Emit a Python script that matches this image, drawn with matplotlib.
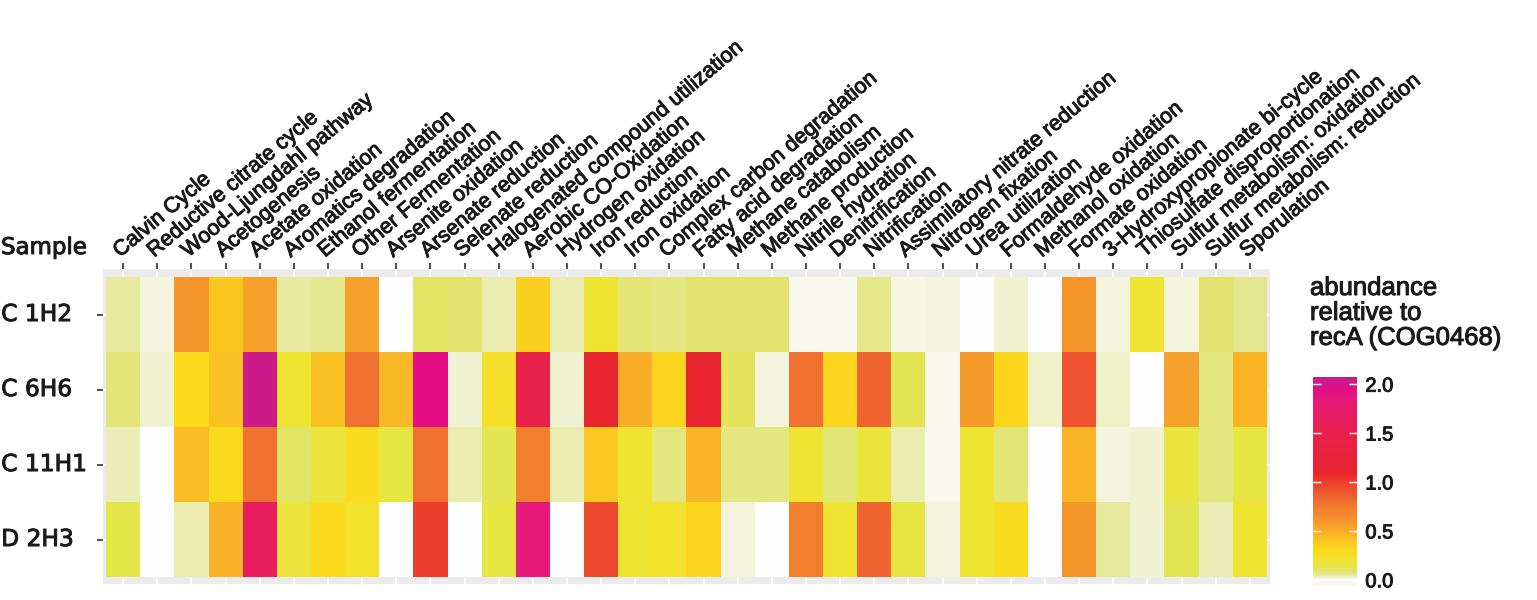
import numpy as np
import matplotlib
matplotlib.use("Agg")
import matplotlib.pyplot as plt
import matplotlib.patheffects as pe
from matplotlib.colors import LinearSegmentedColormap, Normalize

pathways = [
    "Calvin Cycle", "Reductive citrate cycle", "Wood-Ljungdahl pathway", "Acetogenesis",
    "Acetate oxidation", "Aromatics degradation", "Ethanol fermentation", "Other Fermentation",
    "Arsenite oxidation", "Arsenate reduction", "Selenate reduction",
    "Halogenated compound utilization", "Aerobic CO-Oxidation", "Hydrogen oxidation",
    "Iron reduction", "Iron oxidation", "Complex carbon degradation", "Fatty acid degradation",
    "Methane catabolism", "Methane production", "Nitrile hydration", "Denitrification",
    "Nitrification", "Assimilatory nitrate reduction", "Nitrogen fixation", "Urea utilization",
    "Formaldehyde oxidation", "Methanol oxidation", "Formate oxidation",
    "3-Hydroxypropionate bi-cycle", "Thiosulfate disproportionation",
    "Sulfur metabolism: oxidation", "Sulfur metabolism: reduction", "Sporulation",
]
samples = ["C 1H2", "C 6H6", "C 11H1", "D 2H3"]

# abundance relative to recA, one list per sample
c_1h2 = [0.05, 0.02, 0.6, 0.4, 0.55, 0.05, 0.06, 0.55, 0, 0.1, 0.09, 0.04, 0.35, 0.04, 0.2,
         0.08, 0.075, 0.09, 0.09, 0.09, 0.01, 0.012, 0.065, 0.015, 0.018, 0, 0.025, 0, 0.6,
         0.018, 0.2, 0.018, 0.09, 0.06]
c_6h6 = [0.08, 0.025, 0.3, 0.42, 2.02, 0.2, 0.42, 0.8, 0.45, 1.95, 0.025, 0.24, 1.45, 0.025,
         1.1, 0.5, 0.33, 1.1, 0.11, 0.02, 0.8, 0.33, 0.85, 0.12, 0.01, 0.58, 0.32, 0.028, 0.92,
         0.03, 0, 0.55, 0.075, 0.47]
c_11h1 = [0.035, 0, 0.43, 0.3, 0.8, 0.1, 0.16, 0.28, 0.15, 0.8, 0.04, 0.12, 0.72, 0.04, 0.38,
          0.2, 0.075, 0.47, 0.075, 0.075, 0.2, 0.08, 0.17, 0.04, 0.01, 0.2, 0.08, 0, 0.47,
          0.018, 0.025, 0.16, 0.075, 0.15]
d_2h3 = [0.13, 0, 0.04, 0.48, 1.65, 0.17, 0.3, 0.22, 0, 1.0, 0, 0.15, 1.85, 0, 0.95, 0.2,
         0.21, 0.33, 0.018, 0, 0.72, 0.2, 0.85, 0.15, 0.018, 0.2, 0.28, 0, 0.6, 0.05, 0.025,
         0.12, 0.035, 0.2]

cbar_ticks = [0.0, 0.5, 1.0, 1.5, 2.0]

values = np.array([c_1h2, c_6h6, c_11h1, d_2h3])

# colour gradient (value, colour)
lo, hi = -0.053, 2.073
stops = [(lo, "#f6f2ee"), (0.0, "#ffffff"), (0.02, "#f1f3d6"), (0.05, "#e6e898"),
         (0.09, "#e2e46c"), (0.13, "#e4e548"), (0.2, "#f0e430"), (0.3, "#fbda1c"),
         (0.4, "#fbc522"), (0.5, "#f8ac28"), (0.6, "#f5962a"), (0.8, "#f07030"),
         (0.95, "#ee4a2e"), (1.1, "#e8242f"), (1.5, "#e8204c"), (1.85, "#e6187a"),
         (1.95, "#e50c82"), (2.02, "#cc1a8a"), (hi, "#c41c8e")]
cmap = LinearSegmentedColormap.from_list(
    "abund", [((v - lo) / (hi - lo), c) for v, c in stops], N=512)
norm = Normalize(vmin=lo, vmax=hi)

ink = "#1a1a1a"
heavy = [pe.withStroke(linewidth=0.7, foreground=ink)]

W, H = 1537, 600
fig = plt.figure(figsize=(W / 100, H / 100), dpi=100)
ax = fig.add_axes([103 / W, 16 / H, 1167 / W, 315 / H])
ax.set_facecolor("#ebebeb")

xe = np.arange(len(pathways) + 1) - 0.5
ye = np.arange(len(samples) + 1) - 0.5
mesh = ax.pcolormesh(xe, ye, values, cmap=cmap, norm=norm, zorder=1)

ax.set_xlim(-0.59, len(pathways) - 0.41)
ax.set_ylim(len(samples) - 0.407, -0.607)
ax.set_axisbelow(True)
ax.grid(True, color="white", linewidth=1.2)
for s in ax.spines.values():
    s.set_visible(False)

ax.xaxis.tick_top()
ax.set_xticks(range(len(pathways)))
ax.set_xticklabels(pathways, rotation=40, ha="left", va="bottom", rotation_mode="anchor",
                   fontsize=15.5, family="Liberation Sans", color=ink)
ax.set_yticks(range(len(samples)))
ax.set_yticklabels(samples, fontsize=16.8, family="DejaVu Sans", color=ink,
                   ha="left", va="center")
for lab in ax.get_xticklabels() + ax.get_yticklabels():
    lab.set_path_effects(heavy)
ax.tick_params(axis="x", length=4.3, width=1.5, color="#555555", pad=1)
ax.tick_params(axis="y", length=4.3, width=1.5, color="#555555", pad=69)

fig.text(1 / W, 1 - 254 / H, "Sample", fontsize=16.5, family="DejaVu Sans",
         color=ink, ha="left", va="baseline", path_effects=heavy)

# legend
fig.text(1310 / W, 1 - 276 / H, "abundance\nrelative to\nrecA (COG0468)", fontsize=18.5,
         family="Liberation Sans", color=ink, ha="left", va="top", linespacing=1.05,
         path_effects=heavy)
cax = fig.add_axes([1313 / W, 15 / H, 44 / W, 208 / H])
cb = fig.colorbar(mesh, cax=cax, ticks=cbar_ticks)
cb.outline.set_visible(False)
cax.set_yticklabels([f"{t:.1f}" for t in cbar_ticks], fontsize=14.5,
                    family="Liberation Sans", color=ink)
for lab in cax.get_yticklabels():
    lab.set_path_effects(heavy)
cax.tick_params(axis="y", direction="in", left=True, right=True, length=5.8, width=1.0,
                color="white", pad=6)

fig.savefig("out.png", dpi=100)
